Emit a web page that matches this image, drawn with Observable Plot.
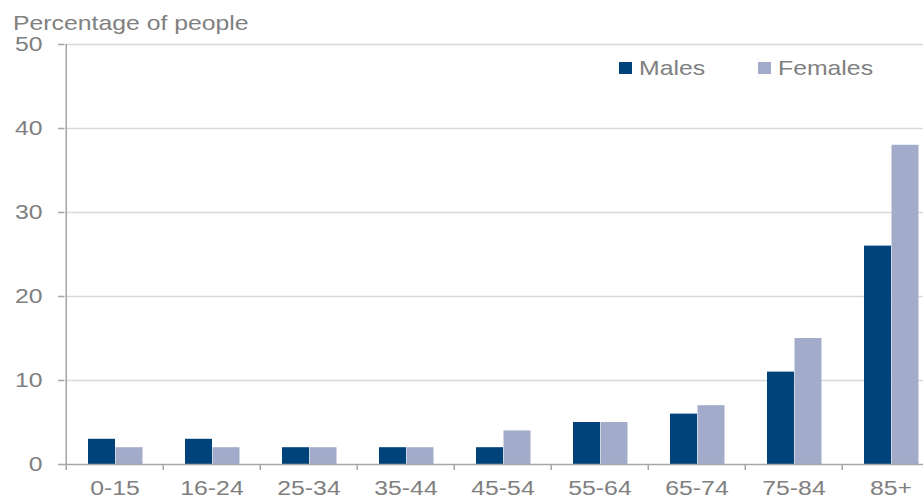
<!DOCTYPE html>
<html>
<head>
<meta charset="utf-8">
<script src="https://cdn.jsdelivr.net/npm/d3@7"></script>
<script src="https://cdn.jsdelivr.net/npm/@observablehq/plot@0.6"></script>
<style>
  body { margin: 0; background: #fff; }
  #wrap { position: relative; width: 923px; height: 499px; overflow: hidden; font-family: "Liberation Sans", Arial, sans-serif; }
  .lbl { position: absolute; font-size: 21px; line-height: 21px; color: #808080; white-space: nowrap; transform: scaleX(1.18); transform-origin: left top; }
  .sw { position: absolute; width: 13px; height: 12px; }
</style>
</head>
<body>
<div id="wrap"></div>
<script>
const categories = ["0-15", "16-24", "25-34", "35-44", "45-54", "55-64", "65-74", "75-84", "85+"];
const males   = [3, 3, 2, 2, 2, 5, 6, 11, 26];
const females = [2, 2, 2, 2, 4, 5, 7, 15, 38];
const yTicks  = [0, 10, 20, 30, 40, 50];
const seriesNames = ["Males", "Females"];
const seriesColors = ["#00427A", "#A2ACCA"];

const maleData = categories.map((c, i) => ({category: c, value: males[i]}));
const femaleData = categories.map((c, i) => ({category: c, value: females[i]}));

const W = 923, H = 499;
const xRange = [64, 941.5];
const step = (xRange[1] - xRange[0]) / categories.length;
const axisGray = "#A6A6A6";
const textGray = "#808080";

const chart = Plot.plot({
  width: W,
  height: H,
  marginLeft: 64,
  marginRight: 0,
  marginTop: 44,
  marginBottom: 35,
  style: {fontFamily: "'Liberation Sans', Arial, sans-serif", fontSize: "21px", color: textGray, background: "#fff"},
  x: {domain: categories, range: xRange, padding: 0},
  y: {domain: [0, 50], ticks: yTicks},
  marks: [
    Plot.gridY(yTicks.filter(d => d > 0), {stroke: "#D9D9D9", strokeOpacity: 1, strokeWidth: 1.3}),
    Plot.barY(maleData, {x: "category", y: "value", fill: seriesColors[0], insetLeft: step * 0.2256, insetRight: step * 0.4923}),
    Plot.barY(femaleData, {x: "category", y: "value", fill: seriesColors[1], insetLeft: step * 0.5077, insetRight: step * 0.2103}),
    Plot.ruleY([0], {stroke: axisGray, strokeWidth: 1.5}),
    Plot.ruleX([categories[0]], {x: d => d, dx: -step / 2, y1: 0, y2: 50, stroke: axisGray, strokeWidth: 1.5}),
    Plot.axisY({ticks: yTicks, tickSize: 6, tickPadding: 16, stroke: axisGray, strokeWidth: 1.5, fill: textGray, label: null}),
    Plot.axisX({tickSize: 6, tickFormat: () => "", dx: -step / 2, stroke: axisGray, strokeWidth: 1.5, label: null}),
    Plot.axisX({tickSize: 0, tickPadding: 16, fill: textGray, label: null})
  ]
});

// horizontally stretch texts like the reference rendering
chart.querySelectorAll("text").forEach(t => {
  const tr = t.getAttribute("transform");
  if (tr) t.setAttribute("transform", tr + " scale(1.18,1)");
});

const wrap = document.getElementById("wrap");
wrap.appendChild(chart);

const title = document.createElement("div");
title.className = "lbl";
title.style.left = "13px";
title.style.top = "12px";
title.textContent = "Percentage of people";
wrap.appendChild(title);

const legendX = [619, 758];
seriesNames.forEach((name, i) => {
  const sw = document.createElement("div");
  sw.className = "sw";
  sw.style.left = legendX[i] + "px";
  sw.style.top = "62px";
  sw.style.background = seriesColors[i];
  wrap.appendChild(sw);
  const tx = document.createElement("div");
  tx.className = "lbl";
  tx.style.left = (legendX[i] + 20) + "px";
  tx.style.top = "57px";
  tx.textContent = name;
  wrap.appendChild(tx);
});
</script>
</body>
</html>
